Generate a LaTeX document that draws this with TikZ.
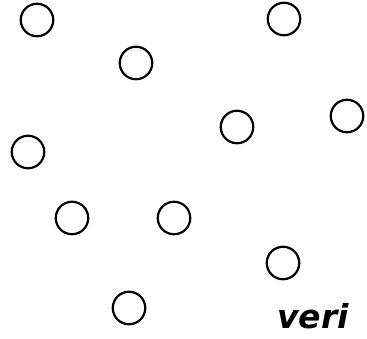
\documentclass[tikz,border=0pt]{standalone}
\usepackage{fontspec}
\newfontfamily\verifont{DejaVu Sans}
\begin{document}
\begin{tikzpicture}[x=1pt,y=-1pt,
  dot/.style={circle,draw=black,line width=2.2pt,minimum size=32.5pt,inner sep=0pt},
  lbl/.style={font=\verifont\bfseries\itshape\fontsize{33}{38}\selectfont,inner sep=0pt,anchor=base}]
\useasboundingbox (0,0) rectangle (367,339);
\node[dot] (c1) at (37,20) {};
\node[dot] (c2) at (284,19) {};
\node[dot] (c3) at (136,63) {};
\node[dot] (c4) at (237,127) {};
\node[dot] (c5) at (347,116) {};
\node[dot] (c6) at (28,152) {};
\node[dot] (c7) at (72,218) {};
\node[dot] (c8) at (174,218) {};
\node[dot] (c9) at (283,263) {};
\node[dot] (c10) at (129,308) {};
\node[lbl] (t) at (313,328) {veri};
\end{tikzpicture}
\end{document}
